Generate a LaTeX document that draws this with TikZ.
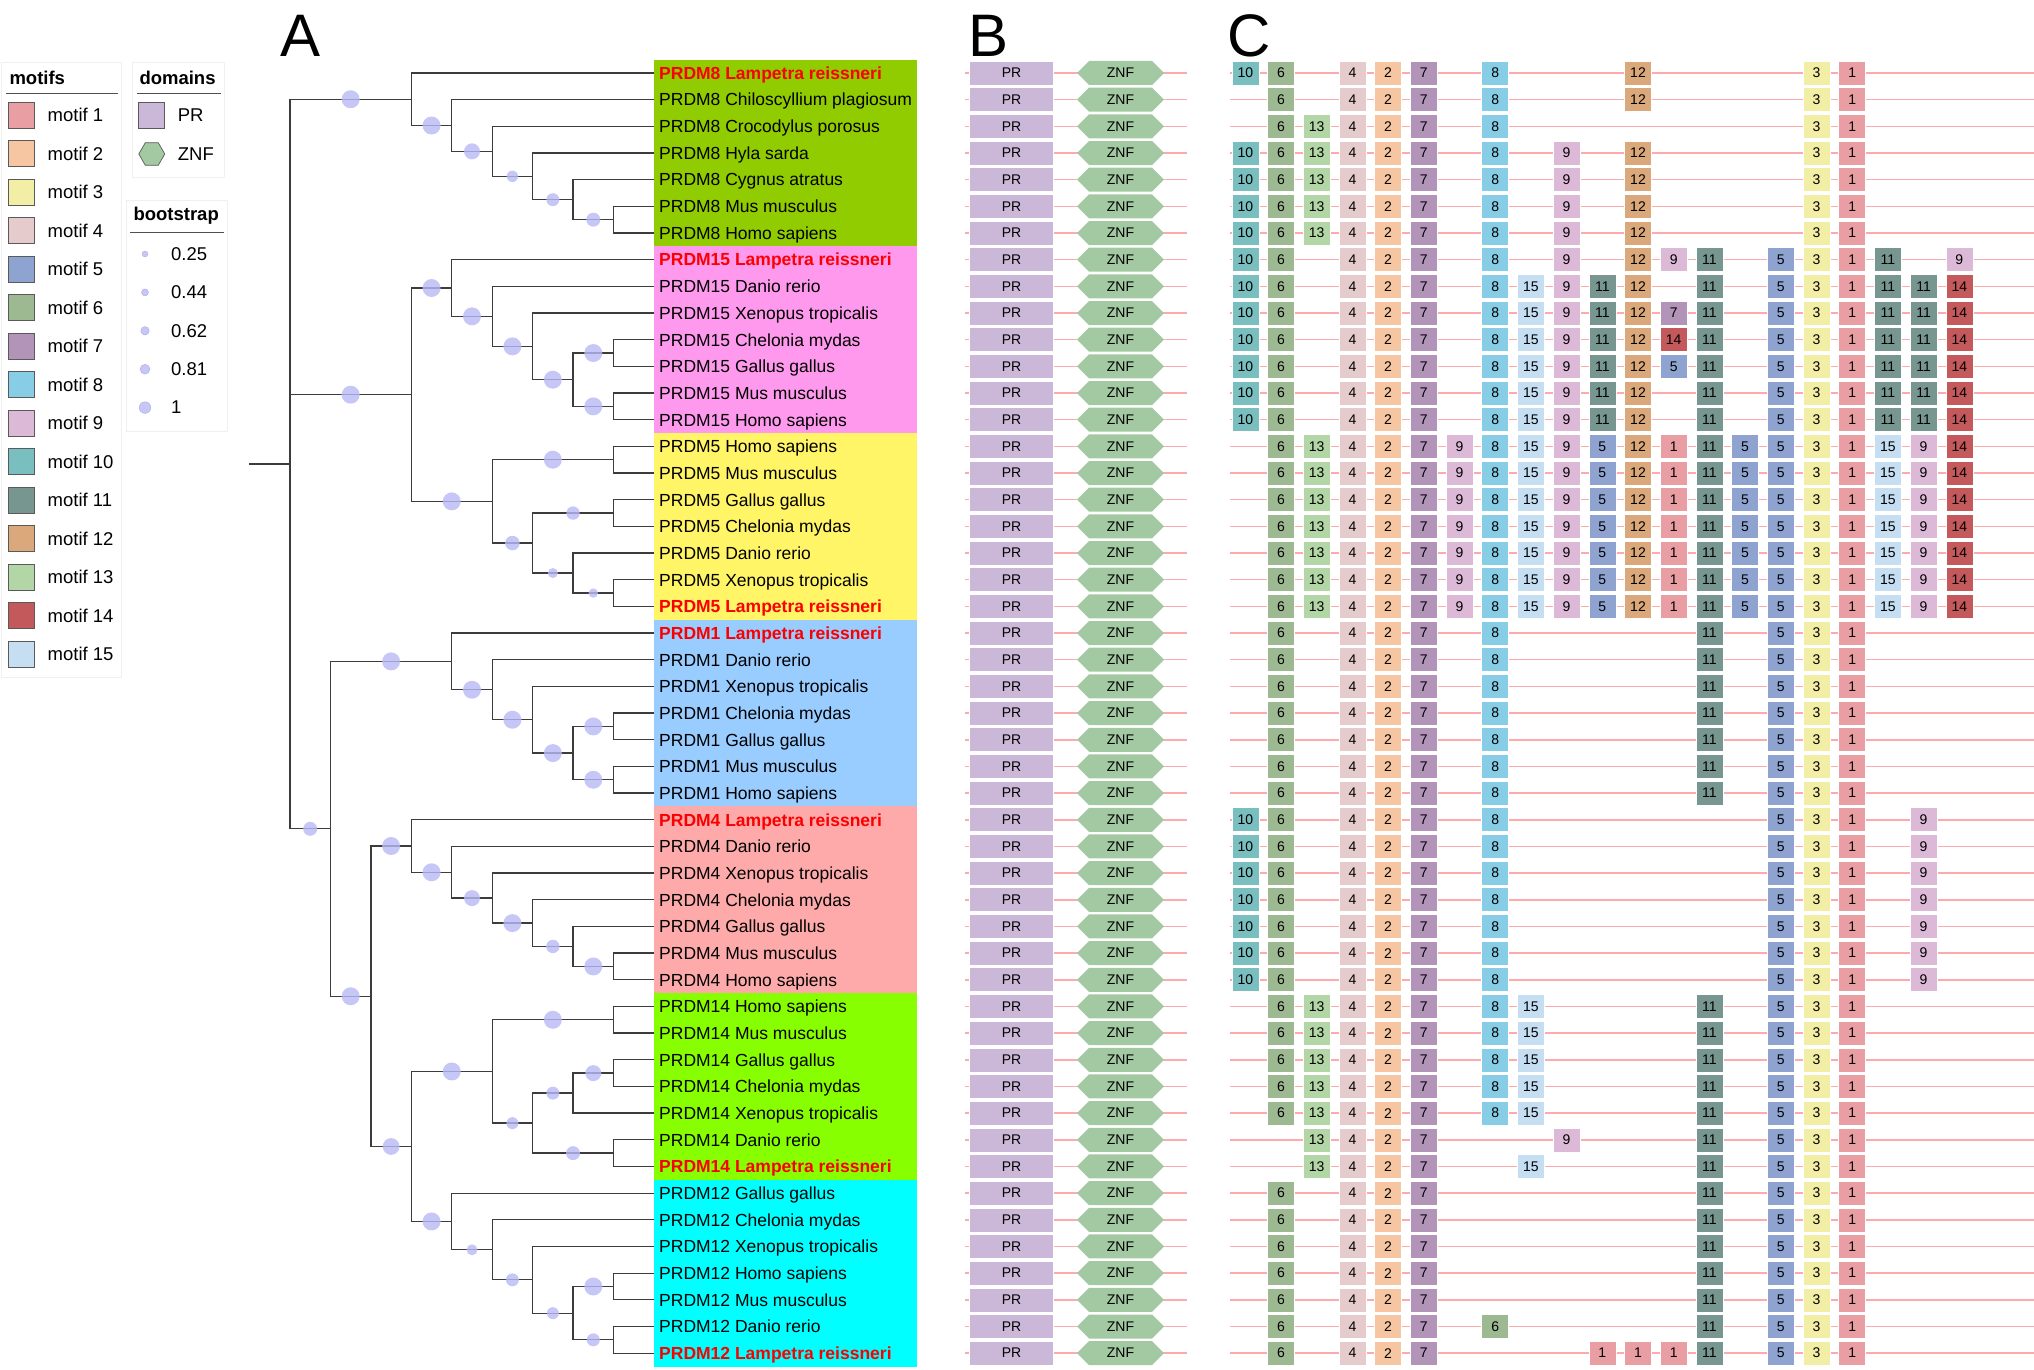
\documentclass[tikz,border=0pt]{standalone}
\usepackage{fontspec}
\setmainfont{Liberation Sans}
\usetikzlibrary{calc,shapes.symbols,shapes.geometric}
\definecolor{mot1}{RGB}{232,158,162}
\definecolor{mot2}{RGB}{245,198,161}
\definecolor{mot3}{RGB}{242,238,166}
\definecolor{mot4}{RGB}{229,203,203}
\definecolor{mot5}{RGB}{143,163,208}
\definecolor{mot6}{RGB}{157,185,146}
\definecolor{mot7}{RGB}{178,148,184}
\definecolor{mot8}{RGB}{135,205,230}
\definecolor{mot9}{RGB}{221,185,216}
\definecolor{mot10}{RGB}{122,191,192}
\definecolor{mot11}{RGB}{119,150,143}
\definecolor{mot12}{RGB}{219,168,124}
\definecolor{mot13}{RGB}{178,214,165}
\definecolor{mot14}{RGB}{196,89,92}
\definecolor{mot15}{RGB}{197,222,242}
\definecolor{prcol}{RGB}{203,184,216}
\definecolor{znfcol}{RGB}{162,201,162}
\definecolor{bbline}{RGB}{255,170,170}
\definecolor{treeline}{RGB}{60,60,60}
\definecolor{bootcol}{RGB}{185,185,245}
\definecolor{labred}{RGB}{250,0,0}
\definecolor{grp8}{RGB}{145,204,0}
\definecolor{grp15}{RGB}{255,153,238}
\definecolor{grp5}{RGB}{255,245,102}
\definecolor{grp1}{RGB}{153,204,255}
\definecolor{grp4}{RGB}{255,170,170}
\definecolor{grp14}{RGB}{136,255,0}
\definecolor{grp12}{RGB}{0,255,255}

\newcommand{\clade}[3]{%
  \draw[branch] (#1) |- (#2);
  \fill[bootdot] ($(#1 |- #2)!0.5!(#2)$) circle (#3pt);}
\newcommand{\tip}[2]{\draw[branch] (#1) |- (#2);}
\newcommand{\motifrow}[2]{%
  \draw[backbone] (1230,#1) -- (2034,#1);
  \foreach \c/\m in {#2}
    {\node[motif, fill=mot\m] (m#1-\c) at ({1245.3+35.7*\c},#1) {\m};}}

\begin{document}
\begin{tikzpicture}[x=1pt, y=-1pt,
    branch/.style={draw=treeline, line width=1.3pt},
    bootdot/.style={fill=bootcol, fill opacity=0.8},
    leaflab/.style={anchor=west, inner sep=0pt, text height=12.6pt, text depth=0pt,
      font=\fontsize{17.5pt}{21pt}\selectfont},
    lamp/.style={text=labred, font=\fontsize{17.5pt}{21pt}\selectfont\bfseries},
    backbone/.style={draw=bbline, line width=1.5pt},
    prbox/.style={fill=prcol, draw=white, line width=0.6pt, minimum width=84pt,
      minimum height=24pt, inner sep=0pt, font=\fontsize{14pt}{16pt}\selectfont},
    znfbox/.style={signal, signal to=east and west, signal pointer angle=90,
      fill=znfcol, minimum width=87pt, minimum height=24pt, inner sep=0pt,
      font=\fontsize{14pt}{16pt}\selectfont},
    motif/.style={minimum width=27pt, minimum height=24pt, inner sep=0pt, draw=white,
      line width=0.6pt, font=\fontsize{14pt}{16pt}\selectfont},
    keybox/.style={minimum size=26pt, inner sep=0pt, draw={rgb,255:red,90;green,90;blue,90},
      line width=0.7pt},
    keydot/.style={fill=bootcol, fill opacity=0.8, draw={rgb,255:red,165;green,165;blue,225},
      draw opacity=0.8, line width=0.5pt},
    keytext/.style={anchor=west, inner sep=0pt, font=\fontsize{18.5pt}{22pt}\selectfont},
    keytitle/.style={anchor=west, inner sep=0pt, font=\fontsize{18.5pt}{22pt}\selectfont\bfseries},
    legbox/.style={draw=gray!12, line width=0.6pt},
    keyrule/.style={draw={rgb,255:red,80;green,80;blue,80}, line width=0.8pt},
    panel/.style={anchor=base west, inner sep=0pt, font=\fontsize{60pt}{70pt}\selectfont}]
\useasboundingbox (0,0) rectangle (2034,1370);

% legend
\draw[legbox] (1.7,62.7) rectangle (121.7,677);
\node[keytitle] (ttlmotif) at (9.3,77.7) {motifs};
\draw[keyrule] (6,93.7) -- (118,93.7);
\foreach \k in {1,...,15} {
  \node[keybox, fill=mot\k] (key\k) at (21.2,{115.3+38.5*(\k-1)}) {};
  \node[keytext] (keylab\k) at (47.5,{115.3+38.5*(\k-1)}) {motif \k};
}
\draw[legbox] (132.7,62.7) rectangle (224.3,177.3);
\node[keytitle] (ttldom) at (139.3,77.7) {domains};
\draw[keyrule] (136.7,93.7) -- (220.7,93.7);
\node[keybox, fill=prcol] (keypr) at (151.8,115.3) {};
\node[keytext] (keyprlab) at (177.7,115.3) {PR};
\node[regular polygon, regular polygon sides=6, minimum size=26pt, inner sep=0pt,
  fill=znfcol, draw={rgb,255:red,90;green,90;blue,90}, line width=0.7pt] (keyznf) at (151.8,154) {};
\node[keytext] (keyznflab) at (177.7,154) {ZNF};
\draw[legbox] (126.7,200.7) rectangle (227.7,431);
\node[keytitle] (ttlboot) at (133.3,215.7) {bootstrap};
\draw[keyrule] (130,232.3) -- (223.7,232.3);
\foreach \v/\rad [count=\i] in {0.25/2.9,0.44/3.5,0.62/4.2,0.81/4.9,1/5.8} {
  \path[keydot] (145,{254+38.4*(\i-1)}) circle (\rad pt);
  \node[keytext] (bootlab\i) at (171,{254+38.4*(\i-1)}) {\v};
}

% panel letters
\node[panel] (pa) at (280,57) {A};
\node[panel] (pb) at (968,57) {B};
\node[panel] (pc) at (1227,57) {C};

\begin{scope}[y=-26.67pt, yshift=-46.33pt]
% label backgrounds
\fill[grp8] (654,0.5) rectangle (917,7.5);
\fill[grp15] (654,7.5) rectangle (917,14.5);
\fill[grp5] (654,14.5) rectangle (917,21.5);
\fill[grp1] (654,21.5) rectangle (917,28.5);
\fill[grp4] (654,28.5) rectangle (917,35.5);
\fill[grp14] (654,35.5) rectangle (917,42.5);
\fill[grp12] (654,42.5) rectangle (917,49.5);

% tree
\foreach \r in {1,...,49} \coordinate (t\r) at (654,\r);
\coordinate (stub) at (249,15.662);
\coordinate (root) at (290,15.662);
\coordinate (n8a) at (411.3,1.984375);
\coordinate (n8b) at (451.8,2.96875);
\coordinate (n8c) at (492.2,3.9375);
\coordinate (n8d) at (532.6,4.875);
\coordinate (n8e) at (573.1,5.75);
\coordinate (n8f) at (613.5,6.5);
\coordinate (nB) at (411.3,13.0625);
\coordinate (n15a) at (451.8,9.0625);
\coordinate (n15b) at (492.2,10.125);
\coordinate (n15c) at (532.6,11.25);
\coordinate (n15d) at (573.1,12.5);
\coordinate (n15e) at (613.5,11.5);
\coordinate (n15f) at (613.5,13.5);
\coordinate (n5a) at (492.2,17.0625);
\coordinate (n5b) at (613.5,15.5);
\coordinate (n5c) at (532.6,18.625);
\coordinate (n5d) at (613.5,17.5);
\coordinate (n5e) at (573.1,19.75);
\coordinate (n5f) at (613.5,20.5);
\coordinate (nC) at (330.4,29.33984);
\coordinate (n1a) at (451.8,23.0625);
\coordinate (n1b) at (492.2,24.125);
\coordinate (n1c) at (532.6,25.25);
\coordinate (n1d) at (573.1,26.5);
\coordinate (n1e) at (613.5,25.5);
\coordinate (n1f) at (613.5,27.5);
\coordinate (nD) at (370.9,35.6171875);
\coordinate (n4a) at (411.3,29.984375);
\coordinate (n4b) at (451.8,30.96875);
\coordinate (n4c) at (492.2,31.9375);
\coordinate (n4d) at (532.6,32.875);
\coordinate (n4e) at (573.1,33.75);
\coordinate (n4f) at (613.5,34.5);
\coordinate (nE) at (411.3,41.25);
\coordinate (n14a) at (492.2,38.4375);
\coordinate (n14b) at (613.5,36.5);
\coordinate (n14c) at (532.6,40.375);
\coordinate (n14d) at (573.1,39.25);
\coordinate (n14f) at (613.5,38.5);
\coordinate (n14e) at (613.5,41.5);
\coordinate (n12a) at (451.8,44.0625);
\coordinate (n12b) at (492.2,45.125);
\coordinate (n12c) at (532.6,46.25);
\coordinate (n12d) at (573.1,47.5);
\coordinate (n12e) at (613.5,46.5);
\coordinate (n12f) at (613.5,48.5);

\draw[branch] (stub) -- (root);
\clade{root}{n8a}{9} \clade{root}{nB}{9} \clade{root}{nC}{7}
\tip{n8a}{t1} \clade{n8a}{n8b}{9}
\tip{n8b}{t2} \clade{n8b}{n8c}{8}
\tip{n8c}{t3} \clade{n8c}{n8d}{5.7}
\tip{n8d}{t4} \clade{n8d}{n8e}{6.5}
\tip{n8e}{t5} \clade{n8e}{n8f}{7}
\tip{n8f}{t6} \tip{n8f}{t7}
\clade{nB}{n15a}{9} \clade{nB}{n5a}{9}
\tip{n15a}{t8} \clade{n15a}{n15b}{9}
\tip{n15b}{t9} \clade{n15b}{n15c}{9}
\tip{n15c}{t10} \clade{n15c}{n15d}{9}
\clade{n15d}{n15e}{9} \clade{n15d}{n15f}{9}
\tip{n15e}{t11} \tip{n15e}{t12}
\tip{n15f}{t13} \tip{n15f}{t14}
\clade{n5a}{n5b}{9} \clade{n5a}{n5c}{7.3}
\tip{n5b}{t15} \tip{n5b}{t16}
\clade{n5c}{n5d}{6.7} \clade{n5c}{n5e}{5}
\tip{n5d}{t17} \tip{n5d}{t18}
\tip{n5e}{t19} \clade{n5e}{n5f}{4.7}
\tip{n5f}{t20} \tip{n5f}{t21}
\clade{nC}{n1a}{9} \clade{nC}{nD}{9}
\tip{n1a}{t22} \clade{n1a}{n1b}{9}
\tip{n1b}{t23} \clade{n1b}{n1c}{9}
\tip{n1c}{t24} \clade{n1c}{n1d}{9}
\clade{n1d}{n1e}{9} \clade{n1d}{n1f}{9}
\tip{n1e}{t25} \tip{n1e}{t26}
\tip{n1f}{t27} \tip{n1f}{t28}
\clade{nD}{n4a}{9} \clade{nD}{nE}{8.4}
\tip{n4a}{t29} \clade{n4a}{n4b}{9}
\tip{n4b}{t30} \clade{n4b}{n4c}{8}
\tip{n4c}{t31} \clade{n4c}{n4d}{9}
\tip{n4d}{t32} \clade{n4d}{n4e}{6.7}
\tip{n4e}{t33} \clade{n4e}{n4f}{9}
\tip{n4f}{t34} \tip{n4f}{t35}
\clade{nE}{n14a}{9} \clade{nE}{n12a}{9}
\clade{n14a}{n14b}{9} \clade{n14a}{n14c}{6}
\tip{n14b}{t36} \tip{n14b}{t37}
\clade{n14c}{n14d}{6.5} \clade{n14c}{n14e}{7}
\clade{n14d}{n14f}{8} \tip{n14d}{t40}
\tip{n14f}{t38} \tip{n14f}{t39}
\tip{n14e}{t41} \tip{n14e}{t42}
\tip{n12a}{t43} \clade{n12a}{n12b}{5.5}
\tip{n12b}{t44} \clade{n12b}{n12c}{6.5}
\tip{n12c}{t45} \clade{n12c}{n12d}{6}
\clade{n12d}{n12e}{9} \clade{n12d}{n12f}{6.5}
\tip{n12e}{t46} \tip{n12e}{t47}
\tip{n12f}{t48} \tip{n12f}{t49}

% leaf labels
\foreach \r/\txt in {1/PRDM8,8/PRDM15,21/PRDM5,22/PRDM1,29/PRDM4,42/PRDM14,49/PRDM12}
  \node[leaflab, lamp] (lab\r) at (659,\r) {\txt\ Lampetra reissneri};
\foreach \r/\txt in {2/PRDM8 Chiloscyllium plagiosum, 3/PRDM8 Crocodylus porosus,
    4/PRDM8 Hyla sarda, 5/PRDM8 Cygnus atratus, 6/PRDM8 Mus musculus,
    7/PRDM8 Homo sapiens, 9/PRDM15 Danio rerio, 10/PRDM15 Xenopus tropicalis,
    11/PRDM15 Chelonia mydas, 12/PRDM15 Gallus gallus, 13/PRDM15 Mus musculus,
    14/PRDM15 Homo sapiens, 15/PRDM5 Homo sapiens, 16/PRDM5 Mus musculus,
    17/PRDM5 Gallus gallus, 18/PRDM5 Chelonia mydas, 19/PRDM5 Danio rerio,
    20/PRDM5 Xenopus tropicalis, 23/PRDM1 Danio rerio, 24/PRDM1 Xenopus tropicalis,
    25/PRDM1 Chelonia mydas, 26/PRDM1 Gallus gallus, 27/PRDM1 Mus musculus,
    28/PRDM1 Homo sapiens, 30/PRDM4 Danio rerio, 31/PRDM4 Xenopus tropicalis,
    32/PRDM4 Chelonia mydas, 33/PRDM4 Gallus gallus, 34/PRDM4 Mus musculus,
    35/PRDM4 Homo sapiens, 36/PRDM14 Homo sapiens, 37/PRDM14 Mus musculus,
    38/PRDM14 Gallus gallus, 39/PRDM14 Chelonia mydas, 40/PRDM14 Xenopus tropicalis,
    41/PRDM14 Danio rerio, 43/PRDM12 Gallus gallus, 44/PRDM12 Chelonia mydas,
    45/PRDM12 Xenopus tropicalis, 46/PRDM12 Homo sapiens, 47/PRDM12 Mus musculus,
    48/PRDM12 Danio rerio}
  \node[leaflab] (lab\r) at (659,\r) {\txt};

% domains
\foreach \r in {1,...,49} {
  \draw[backbone] (965,\r) -- (1187,\r);
  \node[prbox] (pr\r) at (1011.5,\r) {PR};
  \node[znfbox] (znf\r) at (1120.5,\r) {ZNF};
}

% motifs
\motifrow{1}{0/10,1/6,3/4,4/2,5/7,7/8,11/12,16/3,17/1}
\motifrow{2}{1/6,3/4,4/2,5/7,7/8,11/12,16/3,17/1}
\motifrow{3}{1/6,2/13,3/4,4/2,5/7,7/8,16/3,17/1}
\foreach \r in {4,...,7}
  {\motifrow{\r}{0/10,1/6,2/13,3/4,4/2,5/7,7/8,9/9,11/12,16/3,17/1}}
\motifrow{8}{0/10,1/6,3/4,4/2,5/7,7/8,9/9,11/12,12/9,13/11,15/5,16/3,17/1,18/11,20/9}
\foreach \r in {9,...,14}
  {\motifrow{\r}{0/10,1/6,3/4,4/2,5/7,7/8,8/15,9/9,10/11,11/12,13/11,15/5,16/3,17/1,18/11,19/11,20/14}}
\node[motif, fill=mot7] (m10-12) at ({1245.3+35.7*12},10) {7};
\node[motif, fill=mot14] (m11-12) at ({1245.3+35.7*12},11) {14};
\node[motif, fill=mot5] (m12-12) at ({1245.3+35.7*12},12) {5};
\foreach \r in {15,...,21}
  {\motifrow{\r}{1/6,2/13,3/4,4/2,5/7,6/9,7/8,8/15,9/9,10/5,11/12,12/1,13/11,14/5,15/5,16/3,17/1,18/15,19/9,20/14}}
\foreach \r in {22,...,28}
  {\motifrow{\r}{1/6,3/4,4/2,5/7,7/8,13/11,15/5,16/3,17/1}}
\foreach \r in {29,...,35}
  {\motifrow{\r}{0/10,1/6,3/4,4/2,5/7,7/8,15/5,16/3,17/1,19/9}}
\foreach \r in {36,...,40}
  {\motifrow{\r}{1/6,2/13,3/4,4/2,5/7,7/8,8/15,13/11,15/5,16/3,17/1}}
\motifrow{41}{2/13,3/4,4/2,5/7,9/9,13/11,15/5,16/3,17/1}
\motifrow{42}{2/13,3/4,4/2,5/7,8/15,13/11,15/5,16/3,17/1}
\foreach \r in {43,...,47}
  {\motifrow{\r}{1/6,3/4,4/2,5/7,13/11,15/5,16/3,17/1}}
\motifrow{48}{1/6,3/4,4/2,5/7,7/6,13/11,15/5,16/3,17/1}
\motifrow{49}{1/6,3/4,4/2,5/7,10/1,11/1,12/1,13/11,15/5,16/3,17/1}
\end{scope}
\end{tikzpicture}
\end{document}
